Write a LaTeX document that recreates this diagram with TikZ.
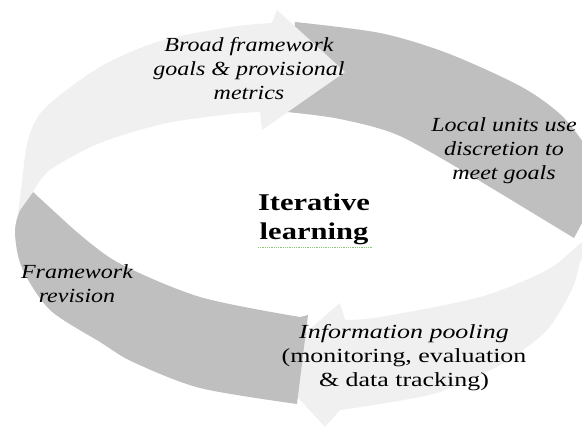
\documentclass[tikz,border=0pt]{standalone}
\usepackage{fontspec}
\setmainfont{Liberation Serif}
\usetikzlibrary{positioning}
\definecolor{lightarc}{gray}{0.94}
\definecolor{darkarc}{gray}{0.75}
\definecolor{spellgreen}{rgb}{0.55,0.78,0.45}

\begin{document}
\begin{tikzpicture}[x=1pt, y=-1pt,
    lbl/.style={align=center, font=\fontsize{20}{24}\selectfont, xscale=1.2, transform shape, inner sep=0pt},
    ttl/.style={lbl, font=\fontsize{24}{29}\selectfont\bfseries, xscale=1.06},
    ]
\useasboundingbox (0,0) rectangle (582,428);
\clip (0,0) rectangle (582,428);

% bottom right arrow (under the others)
\fill[lightarc] plot[smooth] coordinates {(610,215) (582,258) (573,287) (547,330) (500,365) (440,392) (380,404) (340,410)}
    -- (325,427) -- (268,365) -- (340,303)
    -- plot[smooth] coordinates {(345,320) (380,317) (480,297) (547,270) (582,242) (610,222)} -- cycle;

% bottom left band
\fill[darkarc] (308,315) -- plot[smooth] coordinates {(297,404) (200,388) (133,362) (100,342) (50,310) (22,268) (15,233) (20,210) (33,192)}
    -- plot[smooth] coordinates {(70,226) (117,262) (200,297) (300,317)} -- cycle;

% top right band
\fill[darkarc] plot[smooth] coordinates {(295,22) (380,33) (447,53) (520,86) (560,114) (585,145) (605,180)}
    -- (574,238)
    -- plot[smooth] coordinates {(480,181) (400,136) (340,119) (287,112)} -- cycle;

% top left arrow
\fill[lightarc] plot[smooth] coordinates {(18,213) (21,190) (28,140) (45,108) (100,67) (160,41) (230,27) (272,23)}
    -- (277,10) -- (345,72) -- (262,130) -- (260,112)
    -- plot[smooth] coordinates {(240,113) (167,123) (100,143) (50,170) (33,192)} -- cycle;

\node[lbl] (broad) at (249,69) {\itshape Broad framework\\\itshape goals \& provisional\\\itshape metrics};
\node[lbl] (local) at (504,151) {\itshape Local units use\\\itshape discretion to\\\itshape meet goals};
\node[ttl] (iter) at (314,219) {Iterative\\learning};
\node[lbl] (revis) at (77,284) {\itshape Framework\\\itshape revision};
\node[lbl, xscale=1.08] (pool) at (404,358) {\itshape Information pooling\\(monitoring, evaluation\\\& data tracking)};

\draw[spellgreen, densely dotted, line width=0.8pt] (258,247) -- (373,247);

\end{tikzpicture}
\end{document}
